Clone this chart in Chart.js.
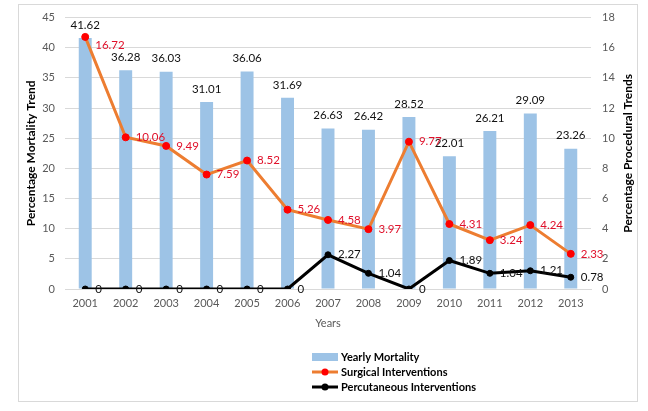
<!DOCTYPE html>
<html>
<head>
<meta charset="utf-8">
<title>Mortality and procedural trends</title>
<script src="https://cdn.jsdelivr.net/npm/chart.js@4.4.1/dist/chart.umd.min.js"></script>
<style>
    html, body { margin: 0; padding: 0; background: #fff; }
    canvas { display: block; }
</style>
</head>
<body>
<canvas id="trendChart" width="648" height="411"></canvas>
<script>
// ============================================
// DATA
// ============================================

const years = ['2001', '2002', '2003', '2004', '2005', '2006', '2007',
               '2008', '2009', '2010', '2011', '2012', '2013'];

const yearlyMortality = [41.62, 36.28, 36.03, 31.01, 36.06, 31.69, 26.63,
                         26.42, 28.52, 22.01, 26.21, 29.09, 23.26];

const surgicalInterventions = [16.72, 10.06, 9.49, 7.59, 8.52, 5.26, 4.58,
                               3.97, 9.77, 4.31, 3.24, 4.24, 2.33];

const percutaneousInterventions = [0, 0, 0, 0, 0, 0, 2.27,
                                   1.04, 0, 1.89, 1.04, 1.21, 0.78];

const mortalityTicks = [0, 5, 10, 15, 20, 25, 30, 35, 40, 45];
const procedureTicks = [0, 2, 4, 6, 8, 10, 12, 14, 16, 18];

const FONT = 'Lato, "Open Sans", sans-serif';

// ============================================
// PLUGINS
// ============================================

// light grey frame round the whole chart
const framePlugin = {
    id: 'frame',
    beforeDraw(chart) {
        const ctx = chart.ctx;
        ctx.save();
        ctx.fillStyle = '#fff';
        ctx.fillRect(0, 0, chart.width, chart.height);
        ctx.strokeStyle = '#d9d9d9';
        ctx.lineWidth = 1;
        ctx.strokeRect(18.5, 4.5, 619, 397);
        ctx.restore();
    }
};

// value labels above bars and right of line points
const valueLabelPlugin = {
    id: 'valueLabels',
    afterDatasetsDraw(chart) {
        const ctx = chart.ctx;
        ctx.save();
        ctx.font = '11.5px ' + FONT;
        ctx.textBaseline = 'middle';
        chart.data.datasets.forEach((ds, i) => {
            const meta = chart.getDatasetMeta(i);
            meta.data.forEach((el, j) => {
                const text = String(ds.data[j]);
                if (ds.type === 'bar') {
                    ctx.textAlign = 'center';
                    ctx.fillStyle = '#111';
                    ctx.fillText(text, el.x, el.y - 13);
                } else {
                    ctx.textAlign = 'left';
                    ctx.fillStyle = ds.labelColor;
                    const nudge = (i === 1 && j === 0) ? 8 : 0;
                    ctx.fillText(text, el.x + 10, el.y + nudge);
                }
            });
        });
        ctx.restore();
    }
};

// right axis title (reads bottom to top) and the stacked legend
const extrasPlugin = {
    id: 'extras',
    afterDraw(chart) {
        const ctx = chart.ctx;
        const area = chart.chartArea;
        ctx.save();

        ctx.font = 'bold 12px ' + FONT;
        ctx.fillStyle = '#000';
        ctx.textAlign = 'center';
        ctx.textBaseline = 'middle';
        ctx.translate(628, (area.top + area.bottom) / 2);
        ctx.rotate(-Math.PI / 2);
        ctx.fillText('Percentage Procedural Trends', 0, 0);
        ctx.setTransform(1, 0, 0, 1, 0, 0);

        const x = (area.left + area.right) / 2 - 16;
        const y0 = area.bottom + 68;
        ctx.font = 'bold 11px ' + FONT;
        ctx.textAlign = 'left';
        chart.data.datasets.forEach((ds, i) => {
            const y = y0 + i * 15;
            if (ds.type === 'bar') {
                ctx.fillStyle = ds.backgroundColor;
                ctx.fillRect(x, y - 4, 26, 8);
            } else {
                ctx.strokeStyle = ds.borderColor;
                ctx.lineWidth = 3;
                ctx.beginPath();
                ctx.moveTo(x, y);
                ctx.lineTo(x + 26, y);
                ctx.stroke();
                ctx.fillStyle = ds.pointBackgroundColor;
                ctx.beginPath();
                ctx.arc(x + 13, y, 3.5, 0, Math.PI * 2);
                ctx.fill();
            }
            ctx.fillStyle = '#000';
            ctx.fillText(ds.label, x + 29, y);
        });
        ctx.restore();
    }
};

// ============================================
// CHART
// ============================================

function initChart() {
    const ctx = document.getElementById('trendChart').getContext('2d');

    new Chart(ctx, {
        data: {
            labels: years,
            datasets: [
                {
                    type: 'bar',
                    label: 'Yearly Mortality',
                    data: yearlyMortality,
                    backgroundColor: '#9dc3e6',
                    yAxisID: 'y',
                    barPercentage: 0.32,
                    categoryPercentage: 1,
                    order: 3
                },
                {
                    type: 'line',
                    label: 'Surgical Interventions',
                    data: surgicalInterventions,
                    borderColor: '#ed7d31',
                    borderWidth: 3,
                    pointBackgroundColor: '#ff0000',
                    pointBorderColor: '#ff0000',
                    pointBorderWidth: 1,
                    pointRadius: 3.5,
                    labelColor: '#e0102a',
                    yAxisID: 'y1',
                    tension: 0,
                    order: 2
                },
                {
                    type: 'line',
                    label: 'Percutaneous Interventions',
                    data: percutaneousInterventions,
                    borderColor: '#000',
                    borderWidth: 3,
                    pointBackgroundColor: '#000',
                    pointBorderColor: '#000',
                    pointBorderWidth: 1,
                    pointRadius: 3,
                    labelColor: '#111',
                    yAxisID: 'y1',
                    tension: 0,
                    order: 1
                }
            ]
        },
        options: {
            responsive: false,
            animation: false,
            devicePixelRatio: 1,
            layout: {
                padding: { left: 18, right: 12, top: 15, bottom: 77 }
            },
            plugins: {
                legend: { display: false },
                tooltip: { enabled: false }
            },
            scales: {
                x: {
                    grid: { display: false, drawTicks: false },
                    border: { display: true, color: '#d9d9d9' },
                    ticks: { color: '#595959', font: { family: FONT, size: 11 }, padding: 8 },
                    title: {
                        display: true,
                        text: 'Years',
                        color: '#595959',
                        font: { family: FONT, size: 11 },
                        padding: { top: 0, bottom: 4 }
                    },
                    afterFit: (scale) => { scale.height = 45; }
                },
                y: {
                    position: 'left',
                    min: mortalityTicks[0],
                    max: mortalityTicks[mortalityTicks.length - 1],
                    ticks: {
                        stepSize: mortalityTicks[1] - mortalityTicks[0],
                        color: '#595959',
                        font: { family: FONT, size: 11 },
                        padding: 10
                    },
                    grid: { color: '#d9d9d9', drawTicks: false },
                    border: { display: false },
                    title: {
                        display: true,
                        text: 'Percentage Mortality Trend',
                        color: '#000',
                        font: { family: FONT, size: 12, weight: 'bold' },
                        padding: { top: 6, bottom: 0 }
                    },
                    afterFit: (scale) => { scale.width = 47; }
                },
                y1: {
                    position: 'right',
                    min: procedureTicks[0],
                    max: procedureTicks[procedureTicks.length - 1],
                    ticks: {
                        stepSize: procedureTicks[1] - procedureTicks[0],
                        color: '#595959',
                        font: { family: FONT, size: 11 },
                        padding: 11
                    },
                    grid: { display: false, drawTicks: false },
                    border: { display: false },
                    afterFit: (scale) => { scale.width = 45; }
                }
            }
        },
        plugins: [framePlugin, valueLabelPlugin, extrasPlugin]
    });
}

initChart();
</script>
</body>
</html>
